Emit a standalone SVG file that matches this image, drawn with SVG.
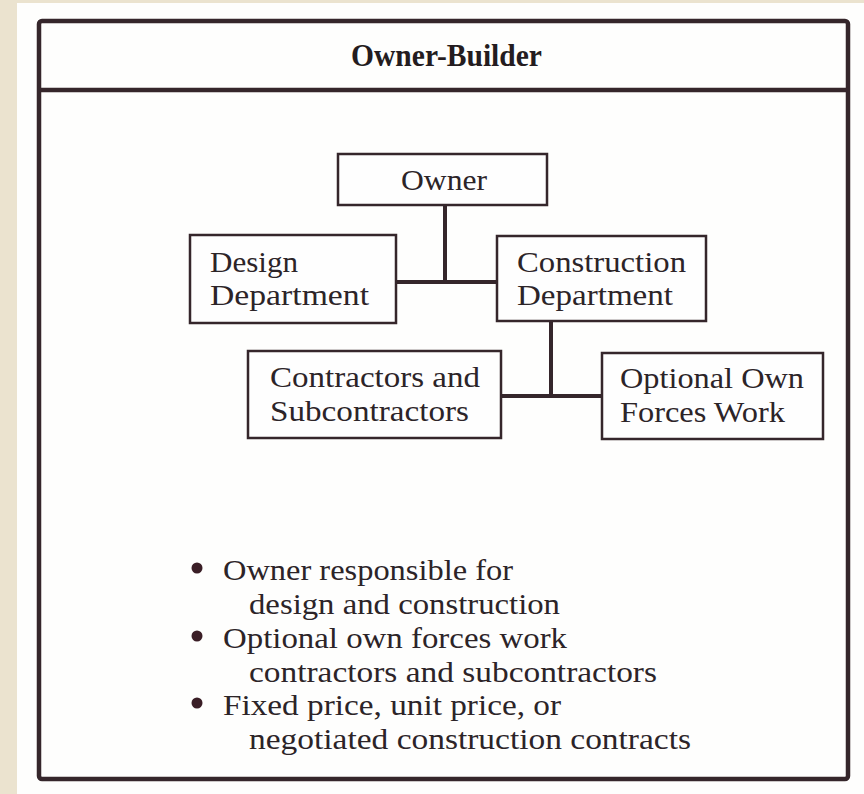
<svg xmlns="http://www.w3.org/2000/svg" width="864" height="794" viewBox="0 0 864 794">
<style>
.frame{fill:none;stroke:#35262b;stroke-width:4.5}
.box{fill:#fefefe;stroke:#35262b;stroke-width:2.5}
.conn{fill:none;stroke:#35262b;stroke-width:4}
.t{font-family:"Liberation Serif","Times New Roman",serif;font-size:29px;fill:#2c2428}
.b{font-family:"Liberation Serif","Times New Roman",serif;font-size:29px;fill:#2c2428}
.title{font-family:"Liberation Serif","Times New Roman",serif;font-size:31px;font-weight:bold;fill:#241c20}
</style>
<rect x="0" y="0" width="864" height="794" fill="#ebe3cf"/>
<rect x="17" y="3" width="847" height="791" fill="#fefefd"/>
<rect class="frame" x="39" y="21" width="809" height="758" rx="3"/>
<line class="frame" x1="39" y1="90" x2="848" y2="90"/>
<text class="title" x="351" y="66" textLength="191" lengthAdjust="spacingAndGlyphs">Owner-Builder</text>
<g id="connectors">
<polyline class="conn" points="445,205 445,282"/>
<line class="conn" x1="396" y1="282" x2="498" y2="282"/>
<polyline class="conn" points="551,321 551,396"/>
<line class="conn" x1="501" y1="396" x2="602" y2="396"/>
</g>
<g id="owner">
<rect class="box" x="338" y="154" width="209" height="51"/>
<text class="t" x="444" y="190" text-anchor="middle" textLength="86" lengthAdjust="spacingAndGlyphs">Owner</text>
</g>
<g id="design">
<rect class="box" x="190" y="235" width="206" height="88"/>
<text class="t" x="210" y="272" textLength="88" lengthAdjust="spacingAndGlyphs">Design</text>
<text class="t" x="210" y="305" textLength="159" lengthAdjust="spacingAndGlyphs">Department</text>
</g>
<g id="construction">
<rect class="box" x="497" y="236" width="209" height="85"/>
<text class="t" x="517" y="272" textLength="169" lengthAdjust="spacingAndGlyphs">Construction</text>
<text class="t" x="517" y="305" textLength="156" lengthAdjust="spacingAndGlyphs">Department</text>
</g>
<g id="contractors">
<rect class="box" x="248" y="351" width="253" height="87"/>
<text class="t" x="270" y="387" textLength="210" lengthAdjust="spacingAndGlyphs">Contractors and</text>
<text class="t" x="270" y="421" textLength="199" lengthAdjust="spacingAndGlyphs">Subcontractors</text>
</g>
<g id="ownforces">
<rect class="box" x="602" y="353" width="221" height="86"/>
<text class="t" x="620" y="388" textLength="184" lengthAdjust="spacingAndGlyphs">Optional Own</text>
<text class="t" x="620" y="422" textLength="165" lengthAdjust="spacingAndGlyphs">Forces Work</text>
</g>
<g id="notes">
<circle cx="197" cy="568" r="5.5" fill="#3a1e26"/>
<text class="b" x="223" y="580" textLength="290" lengthAdjust="spacingAndGlyphs">Owner responsible for</text>
<text class="b" x="249" y="614" textLength="311" lengthAdjust="spacingAndGlyphs">design and construction</text>
<circle cx="197" cy="636" r="5.5" fill="#3a1e26"/>
<text class="b" x="223" y="648" textLength="344" lengthAdjust="spacingAndGlyphs">Optional own forces work</text>
<text class="b" x="249" y="682" textLength="408" lengthAdjust="spacingAndGlyphs">contractors and subcontractors</text>
<circle cx="197" cy="703" r="5.5" fill="#3a1e26"/>
<text class="b" x="223" y="715" textLength="338" lengthAdjust="spacingAndGlyphs">Fixed price, unit price, or</text>
<text class="b" x="249" y="749" textLength="442" lengthAdjust="spacingAndGlyphs">negotiated construction contracts</text>
</g>
</svg>
